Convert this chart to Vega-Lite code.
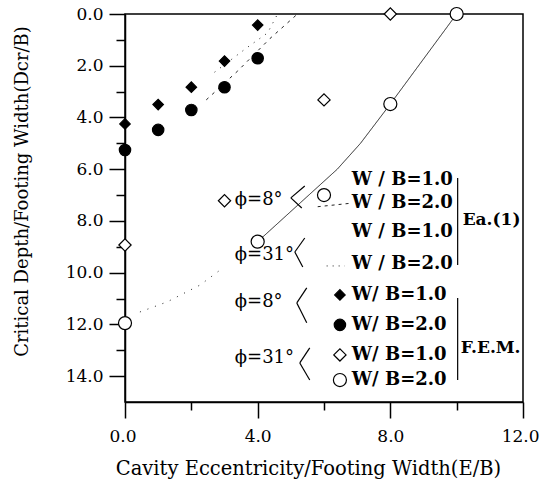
{
  "$schema": "https://vega.github.io/schema/vega-lite/v6.json",
  "width": 398,
  "height": 388,
  "autosize": {"type": "none"},
  "padding": {"left": 125, "top": 14, "right": 17, "bottom": 81},
  "background": "white",
  "config": {
    "font": "DejaVu Serif",
    "view": {"stroke": "black", "strokeWidth": 1.5},
    "axis": {
      "grid": false,
      "domainColor": "black",
      "domainWidth": 1.5,
      "tickColor": "black",
      "tickWidth": 1.5,
      "labelColor": "black",
      "titleColor": "black",
      "labelFont": "DejaVu Serif",
      "titleFont": "DejaVu Serif",
      "labelFontSize": 17,
      "titleFontSize": 19.5,
      "titleFontWeight": "normal"
    }
  },
  "resolve": {"axis": {"x": "independent", "y": "independent"}},
  "datasets": {
    "fem": [
      {"series": "F8_1", "x": 0, "y": 4.25},
      {"series": "F8_1", "x": 1, "y": 3.5},
      {"series": "F8_1", "x": 2, "y": 2.83},
      {"series": "F8_1", "x": 3, "y": 1.82},
      {"series": "F8_1", "x": 4, "y": 0.43},
      {"series": "F8_2", "x": 0, "y": 5.26},
      {"series": "F8_2", "x": 1, "y": 4.48},
      {"series": "F8_2", "x": 2, "y": 3.71},
      {"series": "F8_2", "x": 3, "y": 2.83},
      {"series": "F8_2", "x": 4, "y": 1.71},
      {"series": "F31_1", "x": 0, "y": 8.93},
      {"series": "F31_1", "x": 3, "y": 7.22},
      {"series": "F31_1", "x": 6, "y": 3.32},
      {"series": "F31_1", "x": 8, "y": 0},
      {"series": "F31_2", "x": 0, "y": 11.95},
      {"series": "F31_2", "x": 4, "y": 8.8},
      {"series": "F31_2", "x": 6, "y": 7.0},
      {"series": "F31_2", "x": 8, "y": 3.48},
      {"series": "F31_2", "x": 10, "y": 0}
    ],
    "curves": [
      {"curve": "Ea8_1", "x": 2.7, "y": 2.25},
      {"curve": "Ea8_1", "x": 3.7, "y": 1.28},
      {"curve": "Ea8_1", "x": 4.3, "y": 0.73},
      {"curve": "Ea8_1", "x": 4.6, "y": 0},
      {"curve": "Ea8_2", "x": 2.45, "y": 3.32},
      {"curve": "Ea8_2", "x": 3.4, "y": 2.2},
      {"curve": "Ea8_2", "x": 4.37, "y": 0.95},
      {"curve": "Ea8_2", "x": 5.2, "y": 0},
      {"curve": "Ea31_a", "x": 4.0, "y": 8.8},
      {"curve": "Ea31_a", "x": 6.4, "y": 6.0},
      {"curve": "Ea31_a", "x": 7.1, "y": 5.0},
      {"curve": "Ea31_a", "x": 8.0, "y": 3.48},
      {"curve": "Ea31_a", "x": 10.0, "y": 0},
      {"curve": "Ea31_b", "x": 0.45, "y": 11.52},
      {"curve": "Ea31_b", "x": 1.27, "y": 11.13},
      {"curve": "Ea31_b", "x": 2.26, "y": 10.48},
      {"curve": "Ea31_b", "x": 2.95, "y": 9.82}
    ],
    "legendMarks": [
      {"series": "F8_1", "x": 6.48, "y": 10.86},
      {"series": "F8_2", "x": 6.48, "y": 12.02},
      {"series": "F31_1", "x": 6.48, "y": 13.18},
      {"series": "F31_2", "x": 6.48, "y": 14.15}
    ],
    "legendRules": [
      {"kind": "line", "x": 5.42, "y": 6.65, "x2": 5.0, "y2": 7.11},
      {"kind": "line", "x": 5.0, "y": 7.11, "x2": 5.33, "y2": 7.5},
      {"kind": "line", "x": 5.42, "y": 8.66, "x2": 5.12, "y2": 9.2},
      {"kind": "line", "x": 5.12, "y": 9.2, "x2": 5.36, "y2": 9.78},
      {"kind": "line", "x": 5.48, "y": 10.59, "x2": 5.18, "y2": 11.17},
      {"kind": "line", "x": 5.18, "y": 11.17, "x2": 5.48, "y2": 11.94},
      {"kind": "line", "x": 5.57, "y": 12.91, "x2": 5.27, "y2": 13.49},
      {"kind": "line", "x": 5.27, "y": 13.49, "x2": 5.57, "y2": 14.15},
      {"kind": "line", "x": 10.03, "y": 6.34, "x2": 10.03, "y2": 9.7},
      {"kind": "line", "x": 10.03, "y": 10.98, "x2": 10.03, "y2": 14.15},
      {"kind": "dashed", "x": 5.81, "y": 7.45, "x2": 6.78, "y2": 7.32},
      {"kind": "dotted", "x": 6.08, "y": 9.74, "x2": 6.63, "y2": 9.74}
    ],
    "legendText": [
      {"kind": "wb", "label": "W / B=1.0", "x": 6.84, "y": 6.42},
      {"kind": "wb", "label": "W / B=2.0", "x": 6.84, "y": 7.31},
      {"kind": "wb", "label": "W / B=1.0", "x": 6.84, "y": 8.43},
      {"kind": "wb", "label": "W / B=2.0", "x": 6.84, "y": 9.66},
      {"kind": "wb", "label": "W/ B=1.0", "x": 6.84, "y": 10.86},
      {"kind": "wb", "label": "W/ B=2.0", "x": 6.84, "y": 12.02},
      {"kind": "wb", "label": "W/ B=1.0", "x": 6.84, "y": 13.18},
      {"kind": "wb", "label": "W/ B=2.0", "x": 6.84, "y": 14.15},
      {"kind": "grp", "label": "Ea.(1)", "x": 10.18, "y": 7.96},
      {"kind": "grp", "label": "F.E.M.", "x": 10.12, "y": 12.91},
      {"kind": "phi", "label": "ϕ=8°", "x": 3.31, "y": 7.2},
      {"kind": "phi", "label": "ϕ=31°", "x": 3.31, "y": 9.3},
      {"kind": "phi", "label": "ϕ=8°", "x": 3.31, "y": 11.13},
      {"kind": "phi", "label": "ϕ=31°", "x": 3.31, "y": 13.3}
    ]
  },
  "layer": [
    {
      "data": {"name": "curves"},
      "mark": {"type": "line", "color": "#222", "strokeWidth": 1},
      "encoding": {
        "x": {
          "field": "x", "type": "quantitative",
          "scale": {"domain": [0, 12], "nice": false},
          "axis": {
            "orient": "bottom",
            "title": "Cavity Eccentricity/Footing Width(E/B)",
            "values": [0, 4, 8, 12],
            "format": ".1f",
            "tickSize": 16,
            "labelPadding": 10,
            "labelFlush": true,
            "labelFlushOffset": 16,
            "titlePadding": 15,
            "titleX": 183
          }
        },
        "y": {
          "field": "y", "type": "quantitative",
          "scale": {"domain": [0, 15], "nice": false, "reverse": true},
          "axis": {
            "orient": "left",
            "title": "Critical Depth/Footing Width(Dcr/B)",
            "values": [0, 2, 4, 6, 8, 10, 12, 14],
            "format": ".1f",
            "tickSize": 16,
            "labelPadding": 6,
            "labelFlush": false,
            "titleFontSize": 18,
            "titlePadding": 34,
            "titleY": 177
          }
        },
        "detail": {"field": "curve"},
        "strokeDash": {
          "field": "curve", "type": "nominal",
          "scale": {"domain": ["Ea8_1", "Ea8_2", "Ea31_a", "Ea31_b"], "range": [[1, 6], [3, 5], [1, 0], [1, 7]]},
          "legend": null
        }
      }
    },
    {
      "data": {"name": "fem"},
      "mark": {"type": "point", "stroke": "black", "strokeWidth": 1.2, "opacity": 1},
      "encoding": {
        "x": {
          "field": "x", "type": "quantitative",
          "axis": {"orient": "bottom", "values": [2, 6, 10], "labels": false, "tickSize": 8, "domain": false, "title": null}
        },
        "y": {
          "field": "y", "type": "quantitative",
          "axis": {"orient": "left", "values": [1, 3, 5, 7, 9, 11, 13], "labels": false, "tickSize": 9, "domain": false, "title": null}
        },
        "shape": {
          "field": "series", "type": "nominal",
          "scale": {"domain": ["F8_1", "F8_2", "F31_1", "F31_2"], "range": ["diamond", "circle", "diamond", "circle"]},
          "legend": null
        },
        "fill": {
          "field": "series", "type": "nominal",
          "scale": {"domain": ["F8_1", "F8_2", "F31_1", "F31_2"], "range": ["black", "black", "white", "white"]},
          "legend": null
        },
        "size": {
          "field": "series", "type": "nominal",
          "scale": {"domain": ["F8_1", "F8_2", "F31_1", "F31_2"], "range": [110, 170, 60, 130]},
          "legend": null
        }
      }
    },
    {
      "data": {"name": "legendMarks"},
      "mark": {"type": "point", "stroke": "black", "strokeWidth": 1.2, "opacity": 1},
      "encoding": {
        "x": {"field": "x", "type": "quantitative", "axis": null},
        "y": {"field": "y", "type": "quantitative", "axis": null},
        "shape": {"field": "series", "type": "nominal", "legend": null},
        "fill": {"field": "series", "type": "nominal", "legend": null},
        "size": {"field": "series", "type": "nominal", "legend": null}
      }
    },
    {
      "data": {"name": "legendRules"},
      "transform": [{"filter": "datum.kind === 'line'"}],
      "mark": {"type": "rule", "color": "black", "strokeWidth": 1.2},
      "encoding": {
        "x": {"field": "x", "type": "quantitative", "axis": null},
        "y": {"field": "y", "type": "quantitative", "axis": null},
        "x2": {"field": "x2"},
        "y2": {"field": "y2"}
      }
    },
    {
      "data": {"name": "legendRules"},
      "transform": [{"filter": "datum.kind === 'dashed'"}],
      "mark": {"type": "rule", "color": "#222", "strokeWidth": 1, "strokeDash": [3, 4]},
      "encoding": {
        "x": {"field": "x", "type": "quantitative", "axis": null},
        "y": {"field": "y", "type": "quantitative", "axis": null},
        "x2": {"field": "x2"},
        "y2": {"field": "y2"}
      }
    },
    {
      "data": {"name": "legendRules"},
      "transform": [{"filter": "datum.kind === 'dotted'"}],
      "mark": {"type": "rule", "color": "#222", "strokeWidth": 1, "strokeDash": [1, 5]},
      "encoding": {
        "x": {"field": "x", "type": "quantitative", "axis": null},
        "y": {"field": "y", "type": "quantitative", "axis": null},
        "x2": {"field": "x2"},
        "y2": {"field": "y2"}
      }
    },
    {
      "data": {"name": "legendText"},
      "transform": [{"filter": "datum.kind === 'wb'"}],
      "mark": {"type": "text", "align": "left", "baseline": "middle", "font": "DejaVu Serif", "fontSize": 18, "fontWeight": "bold", "color": "black"},
      "encoding": {
        "x": {"field": "x", "type": "quantitative", "axis": null},
        "y": {"field": "y", "type": "quantitative", "axis": null},
        "text": {"field": "label"}
      }
    },
    {
      "data": {"name": "legendText"},
      "transform": [{"filter": "datum.kind === 'grp'"}],
      "mark": {"type": "text", "align": "left", "baseline": "middle", "font": "DejaVu Serif", "fontSize": 17, "fontWeight": "bold", "color": "black"},
      "encoding": {
        "x": {"field": "x", "type": "quantitative", "axis": null},
        "y": {"field": "y", "type": "quantitative", "axis": null},
        "text": {"field": "label"}
      }
    },
    {
      "data": {"name": "legendText"},
      "transform": [{"filter": "datum.kind === 'phi'"}],
      "mark": {"type": "text", "align": "left", "baseline": "middle", "font": "DejaVu Serif", "fontSize": 18, "color": "black"},
      "encoding": {
        "x": {"field": "x", "type": "quantitative", "axis": null},
        "y": {"field": "y", "type": "quantitative", "axis": null},
        "text": {"field": "label"}
      }
    }
  ]
}
